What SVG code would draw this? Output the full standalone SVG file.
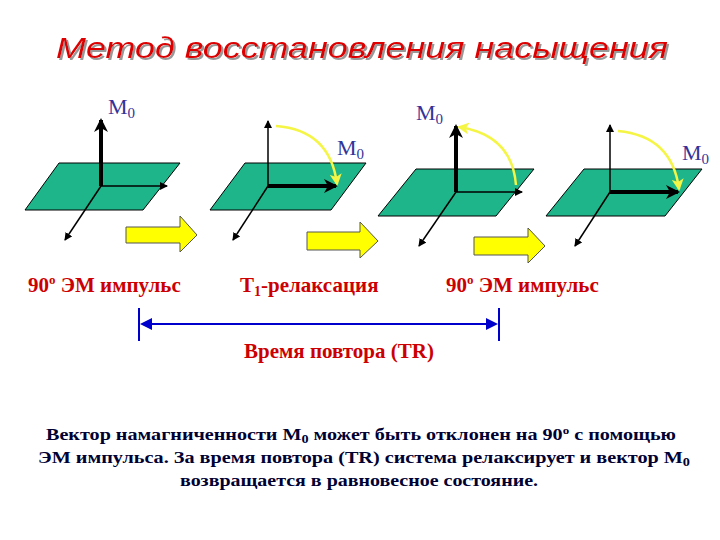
<svg xmlns="http://www.w3.org/2000/svg" width="720" height="540" viewBox="0 0 720 540">
<style>
.pl{fill:#1fb58a;stroke:#000;stroke-width:1}
.thin{stroke:#000;stroke-width:1.5;fill:none;marker-end:url(#ah)}
.thick{stroke:#000;stroke-width:4;fill:none;marker-end:url(#ahb)}
.arc{stroke:#f5f545;stroke-width:2.5;fill:none;marker-end:url(#ay)}
.ya{fill:#ffff00;stroke:#555;stroke-width:1}
.m{font-family:'Liberation Serif','Times New Roman','DejaVu Serif',serif;font-size:22px;fill:#333399}
.lab{font-family:'Liberation Serif','Times New Roman','DejaVu Serif',serif;font-size:21px;font-weight:bold;fill:#cc0000}
.p{font-family:'Liberation Serif','Times New Roman','DejaVu Serif',serif;font-size:17px;font-weight:bold;fill:#000033}
</style>
<defs>
<filter id="sh" x="-5%" y="-20%" width="110%" height="140%"><feDropShadow dx="2" dy="2" stdDeviation="0.5" flood-color="#999"/></filter>
<marker id="ah" markerWidth="8" markerHeight="8" refX="7" refY="4" orient="auto" markerUnits="userSpaceOnUse"><path d="M0,0L8,4L0,8z" fill="#000"/></marker>
<marker id="ahb" markerWidth="14" markerHeight="14" refX="12" refY="7" orient="auto" markerUnits="userSpaceOnUse"><path d="M0,0L14,7L0,14L4,7z" fill="#000"/></marker>
<marker id="ay" markerWidth="12" markerHeight="12" refX="10" refY="6" orient="auto" markerUnits="userSpaceOnUse"><path d="M0,0L12,6L0,12L3,6z" fill="#f5f545"/></marker>
</defs>
<text x="362" y="58" text-anchor="middle" font-family="'Liberation Sans',Arial,sans-serif" font-size="30" font-style="italic" fill="#dd0000" textLength="612" lengthAdjust="spacingAndGlyphs" filter="url(#sh)">Метод восстановления насыщения</text>

<g id="panel1">
<polygon class="pl" points="25,210 59,163 180,163 143,210"/>
<line class="thin" x1="101" y1="186" x2="167" y2="186"/>
<line class="thin" x1="101" y1="186" x2="65" y2="240"/>
<line class="thick" x1="101" y1="186" x2="101" y2="120"/>
<text class="m" x="108" y="114">M<tspan font-size="15" dy="4">0</tspan></text>
</g>
<g id="panel2">
<polygon class="pl" points="210,210 245,163 366,163 331,210"/>
<line class="thin" x1="268" y1="186" x2="268" y2="121"/>
<line class="thin" x1="268" y1="186" x2="233" y2="240"/>
<line class="thick" x1="268" y1="186" x2="336" y2="186"/>
<path class="arc" d="M276,126 Q330,130 337,184"/>
<text class="m" x="337" y="155">M<tspan font-size="15" dy="4">0</tspan></text>
</g>
<g id="panel3">
<polygon class="pl" points="378,216 416,169 534,169 496,216"/>
<line class="thin" x1="456" y1="192" x2="522" y2="192"/>
<line class="thin" x1="456" y1="192" x2="419" y2="246"/>
<line class="thick" x1="456" y1="192" x2="456" y2="126"/>
<path class="arc" d="M516,185 Q512,135 459,127"/>
<text class="m" x="416" y="120">M<tspan font-size="15" dy="4">0</tspan></text>
</g>
<g id="panel4">
<polygon class="pl" points="546,216 584,169 702,169 665,216"/>
<line class="thin" x1="610" y1="192" x2="610" y2="125"/>
<line class="thin" x1="610" y1="192" x2="575" y2="246"/>
<line class="thick" x1="610" y1="192" x2="678" y2="192"/>
<path class="arc" d="M618,131 Q672,136 679,189"/>
<text class="m" x="682" y="160">M<tspan font-size="15" dy="4">0</tspan></text>
</g>

<g id="connectors">
<polygon class="ya" points="126,227 180,227 180,216 197,235 180,252 180,243 126,243"/>
<polygon class="ya" points="307,232 360,232 360,222 378,241 360,258 360,250 307,250"/>
<polygon class="ya" points="474,237 528,237 528,228 545,246 528,263 528,255 474,255"/>
<line x1="139" y1="308" x2="139" y2="341" stroke="#0000cc" stroke-width="2"/>
<line x1="499" y1="308" x2="499" y2="341" stroke="#0000cc" stroke-width="2"/>
<line x1="150" y1="324" x2="488" y2="324" stroke="#0000cc" stroke-width="2"/>
<path d="M140,324L152,318L152,330z" fill="#0000cc"/>
<path d="M498,324L486,318L486,330z" fill="#0000cc"/>
</g>

<text class="lab" x="28" y="292">90<tspan font-size="13" dy="-8">o</tspan><tspan dy="8"> ЭМ импульс</tspan></text>
<text class="lab" x="240" y="292">T<tspan font-size="14" dy="4">1</tspan><tspan dy="-4">-релаксация</tspan></text>
<text class="lab" x="446" y="292">90<tspan font-size="13" dy="-8">o</tspan><tspan dy="8"> ЭМ импульс</tspan></text>
<text class="lab" x="339" y="358" text-anchor="middle">Время повтора (TR)</text>

<text class="p" x="46" y="440" textLength="630" lengthAdjust="spacingAndGlyphs">Вектор намагниченности M<tspan font-size="12" dy="3">0</tspan><tspan dy="-3"> может быть отклонен на 90</tspan><tspan font-size="11" dy="-6">o</tspan><tspan dy="6"> с помощью</tspan></text>
<text class="p" x="38" y="463" textLength="652" lengthAdjust="spacingAndGlyphs">ЭМ импульса. За время повтора (TR) система релаксирует и вектор M<tspan font-size="12" dy="3">0</tspan></text>
<text class="p" x="180" y="486" textLength="358" lengthAdjust="spacingAndGlyphs">возвращается в равновесное состояние.</text>
</svg>
